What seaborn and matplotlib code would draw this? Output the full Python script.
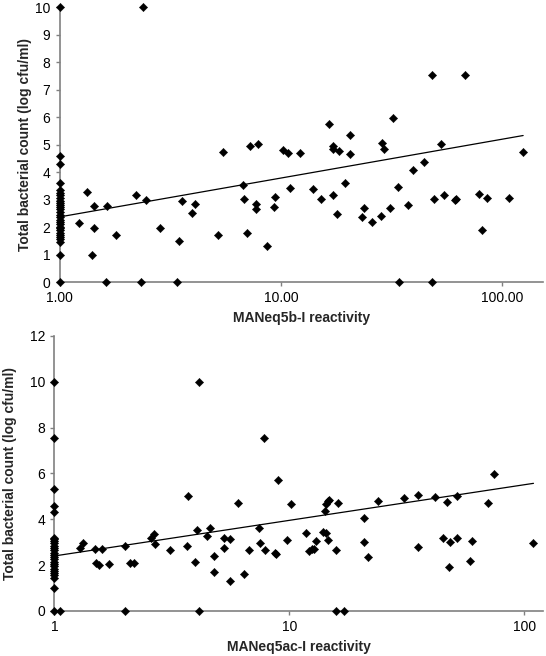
import numpy as np
import pandas as pd
import seaborn as sns
import matplotlib.pyplot as plt
from matplotlib.ticker import FixedLocator, FixedFormatter, NullLocator

# panel A: MANeq5b-I reactivity vs total bacterial count
b_x = [1] * 29 + [
    2.39, 1.23, 1.33, 1.43, 1.43, 1.40, 1.63, 1.62, 1.80, 2.22, 2.45, 2.33,
    2.83, 3.40, 3.45, 3.58, 3.98, 4.11, 5.19, 5.47, 6.77, 6.82, 7.03, 7.21,
    7.91, 7.75, 7.75, 8.62, 9.30, 9.36, 10.25, 10.76, 11.02, 12.15, 13.9,
    15.2, 16.55, 17.1, 17.1, 17.2, 17.9, 18.2, 19.5, 20.5, 20.5, 23.3, 23.7,
    25.8, 28.4, 28.5, 29.1, 31.0, 32.2, 33.8, 34.2, 37.3, 39.4, 44.2, 48.1,
    48.1, 49.1, 53.0, 54.5, 61.1, 62.0, 68.0, 78.7, 81.2, 84.9, 107.6, 124.0]
b_y = [0, 1.0, 1.45, 1.55, 1.65, 1.72, 1.8, 1.88, 1.95, 2.02, 2.1, 2.18,
       2.25, 2.35, 2.45, 2.55, 2.65, 2.72, 2.8, 2.88, 2.95, 3.05, 3.15, 3.25,
       3.35, 3.6, 4.3, 4.6, 10.0] + [
    10.0, 2.15, 3.28, 2.77, 1.95, 1.0, 2.77, 0, 1.70, 3.17, 2.99, 0,
    1.95, 0, 1.48, 2.94, 2.52, 2.84, 1.70, 4.72, 3.53, 3.01, 1.78, 4.96,
    5.01, 2.85, 2.66, 1.30, 2.73, 3.11, 4.79, 4.68, 3.43, 4.71, 3.39,
    3.02, 5.74, 4.96, 4.83, 3.17, 2.46, 4.76, 3.60, 5.34, 4.66, 2.38, 2.68,
    2.17, 2.42, 5.07, 4.83, 2.71, 5.98, 3.47, 0, 2.82, 4.08, 4.37, 7.52,
    0, 3.03, 5.02, 3.17, 2.97, 3.02, 7.55, 3.19, 1.91, 3.07, 3.07, 4.72]
# logarithmic trendline: y = a + b * log10(x)
b_trend = (2.37, 1.415)

# panel B: MANeq5ac-I reactivity vs total bacterial count
ac_x = [1] * 26 + [
    1.06, 1.29, 1.32, 1.49, 1.51, 1.55, 1.60, 1.71, 1.99, 1.99, 2.10, 2.18,
    2.57, 2.66, 2.67, 3.12, 3.66, 3.69, 3.97, 4.05, 4.14, 4.12, 4.45, 4.58,
    4.80, 4.77, 5.27, 5.28, 5.57, 5.57, 6.03, 6.39, 6.73, 7.43, 7.53, 7.80,
    7.92, 8.66, 8.76, 8.95, 9.77, 10.13, 11.8, 12.17, 12.5, 12.7, 12.95,
    13.9, 14.16, 14.3, 14.4, 14.6, 14.6, 14.7, 15.8, 15.8, 16.2, 17.1, 20.9,
    20.9, 21.7, 23.9, 30.7, 35.2, 35.2, 41.6, 45.0, 47.1, 47.9, 48.5, 51.6,
    52.0, 59.0, 60.0, 70.5, 74.7, 109.6]
ac_y = [0, 1.0, 1.45, 1.55, 1.65, 1.75, 1.85, 1.95, 2.05, 2.15, 2.25, 2.35,
        2.45, 2.55, 2.65, 2.75, 2.85, 2.95, 3.05, 3.15, 3.2, 4.3, 4.6, 5.33,
        7.55, 10.0] + [
    0, 2.76, 2.95, 2.71, 2.08, 1.99, 2.69, 2.04, 2.84, 0, 2.08, 2.08,
    3.17, 3.37, 2.91, 2.68, 2.85, 5.00, 2.15, 3.52, 9.99, 0, 3.29, 3.62,
    2.41, 1.70, 2.73, 3.17, 3.16, 1.31, 4.73, 1.60, 2.66, 3.62, 2.98, 7.53,
    2.68, 2.52, 2.47, 5.73, 3.10, 4.65, 3.39, 2.63, 2.69, 2.72, 3.04,
    3.46, 4.36, 4.68, 3.42, 3.10, 4.79, 4.84, 0, 2.68, 4.70, 0, 4.07,
    3.01, 2.37, 4.79, 4.95, 5.06, 2.81, 4.96, 3.19, 4.76, 1.91, 3.03, 3.17,
    5.02, 2.18, 3.07, 4.71, 5.98, 2.97]
ac_trend = (2.40, 1.553)

x_ticks = [1, 10, 100]
top_ticklabels = ["1.00", "10.00", "100.00"]
bot_ticklabels = ["1", "10", "100"]
ylabel = "Total bacterial count (log cfu/ml)"

sns.set_style("ticks")
plt.rcParams['font.family'] = ['Liberation Sans', 'DejaVu Sans']

gray = "#808080"


def panel(ax, x, y, trend, xlabel, xlim, ylim, yticks, xticklabels, ypad):
    df = pd.DataFrame({"x": x, "y": y})
    # trendline over the data range
    tx = np.logspace(np.log10(min(x)), np.log10(max(x)), 50)
    tl = pd.DataFrame({"x": tx, "y": trend[0] + trend[1] * np.log10(tx)})
    sns.lineplot(data=tl, x="x", y="y", ax=ax, color="black", lw=0.9)
    sns.scatterplot(data=df, x="x", y="y", ax=ax, marker="D", s=18,
                    color="black", edgecolor="black", linewidth=0.3,
                    clip_on=False, zorder=3)
    ax.set_xscale("log")
    ax.set_xlim(*xlim)
    ax.set_ylim(*ylim)
    ax.xaxis.set_major_locator(FixedLocator(x_ticks))
    ax.xaxis.set_major_formatter(FixedFormatter(xticklabels))
    ax.xaxis.set_minor_locator(NullLocator())
    ax.set_yticks(yticks)
    ax.set_xlabel(xlabel, fontsize=10, fontweight="bold", labelpad=4)
    ax.set_ylabel(ylabel, fontsize=10, fontweight="bold", labelpad=ypad)
    ax.tick_params(axis="both", colors=gray, labelcolor="black",
                   labelsize=10, length=3, width=1)
    sns.despine(ax=ax)
    for s in ("left", "bottom"):
        ax.spines[s].set_color(gray)
        ax.spines[s].set_linewidth(1.2)


fig = plt.figure(figsize=(5.46, 6.56), dpi=100)
ax1 = fig.add_axes([0.109, 0.570, 0.885, 0.419])
ax2 = fig.add_axes([0.0995, 0.0686, 0.8945, 0.4194])

panel(ax1, b_x, b_y, b_trend, "MANeq5b-I reactivity", (1, 152), (0, 10),
      range(0, 11), top_ticklabels, 2)
panel(ax2, ac_x, ac_y, ac_trend, "MANeq5ac-I reactivity", (1, 120), (0, 12),
      range(0, 13, 2), bot_ticklabels, 9)

fig.savefig("out.png", dpi=100)
